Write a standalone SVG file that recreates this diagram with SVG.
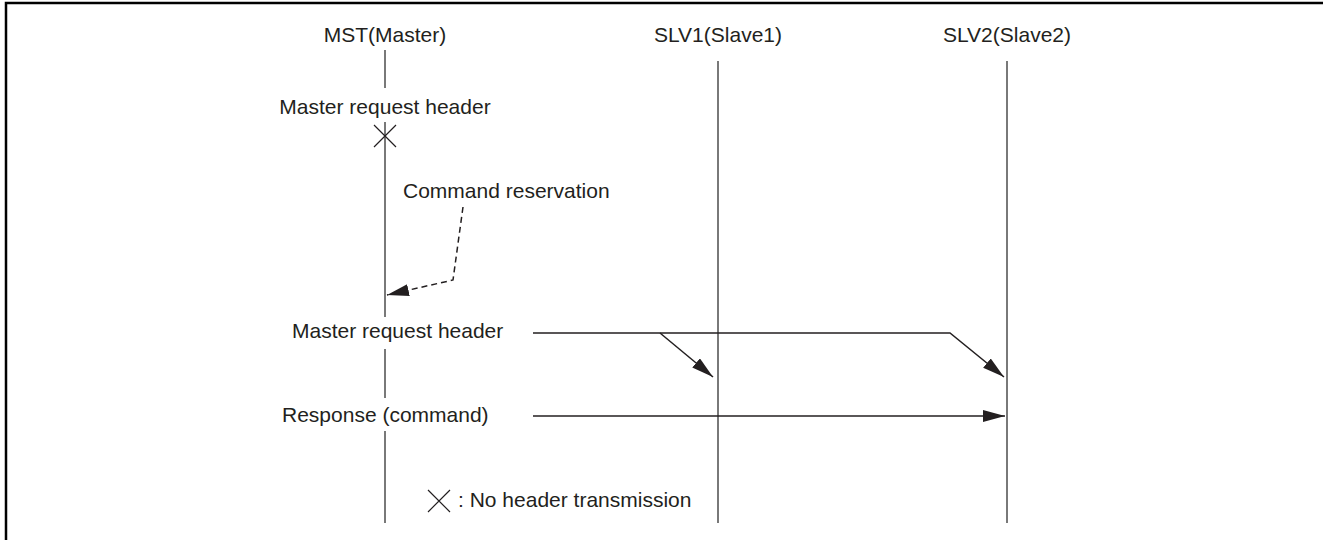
<svg xmlns="http://www.w3.org/2000/svg" width="1323" height="540" viewBox="0 0 1323 540">
  <style>
    .lbl { font-family: "Liberation Sans", Arial, sans-serif; font-size: 21px; fill: #231f20; }
    .life { stroke: #4d4d4d; stroke-width: 1.5; fill: none; }
    .msg { stroke: #231f20; stroke-width: 1.5; fill: none; }
    .dash { stroke: #231f20; stroke-width: 1.5; fill: none; stroke-dasharray: 6 4; }
    .cross { stroke: #231f20; stroke-width: 1.2; fill: none; }
  </style>
  <defs>
    <marker id="arrow" markerUnits="userSpaceOnUse" markerWidth="24" markerHeight="14" refX="22" refY="6" orient="auto">
      <path d="M0,0 L22,6 L0,12 z" fill="#231f20"/>
    </marker>
  </defs>
  <rect width="1323" height="540" fill="#ffffff"/>

  <!-- frame -->
  <path d="M6,540 V3 H1323" fill="none" stroke="#000" stroke-width="2.5"/>

  <!-- master lifeline -->
  <g id="mst">
    <text class="lbl" x="385" y="42" text-anchor="middle">MST(Master)</text>
    <line class="life" x1="385" y1="50" x2="385" y2="88"/>
    <line class="life" x1="385" y1="122" x2="385" y2="317"/>
    <line class="life" x1="385" y1="349" x2="385" y2="398"/>
    <line class="life" x1="385" y1="431" x2="385" y2="523"/>
  </g>

  <!-- slave lifelines -->
  <g id="slv1">
    <text class="lbl" x="718" y="42" text-anchor="middle">SLV1(Slave1)</text>
    <line class="life" x1="718" y1="61" x2="718" y2="523"/>
  </g>
  <g id="slv2">
    <text class="lbl" x="1007" y="42" text-anchor="middle">SLV2(Slave2)</text>
    <line class="life" x1="1007" y1="61" x2="1007" y2="523"/>
  </g>

  <!-- first header: not transmitted -->
  <g id="header1">
    <text class="lbl" x="385" y="114" text-anchor="middle">Master request header</text>
    <path class="cross" d="M374,125 L396,147 M396,125 L374,147"/>
  </g>

  <g id="reservation">
    <text class="lbl" x="403" y="198">Command reservation</text>
  </g>

  <g id="header2">
    <text class="lbl" x="292" y="338">Master request header</text>
  </g>

  <g id="response">
    <text class="lbl" x="282" y="422">Response (command)</text>
  </g>

  <g id="legend">
    <path class="cross" d="M428,490 L450,512 M450,490 L428,512"/>
    <text class="lbl" x="458" y="507">: No header transmission</text>
  </g>

  <!-- connectors -->
  <g id="connectors">
    <path class="dash" d="M463,207 L453,280 L387,295" marker-end="url(#arrow)"/>
    <path class="msg" d="M533,333 H950 L1004,377" marker-end="url(#arrow)"/>
    <path class="msg" d="M660,333 L713,377" marker-end="url(#arrow)"/>
    <path class="msg" d="M533,416 H1005" marker-end="url(#arrow)"/>
  </g>
</svg>
